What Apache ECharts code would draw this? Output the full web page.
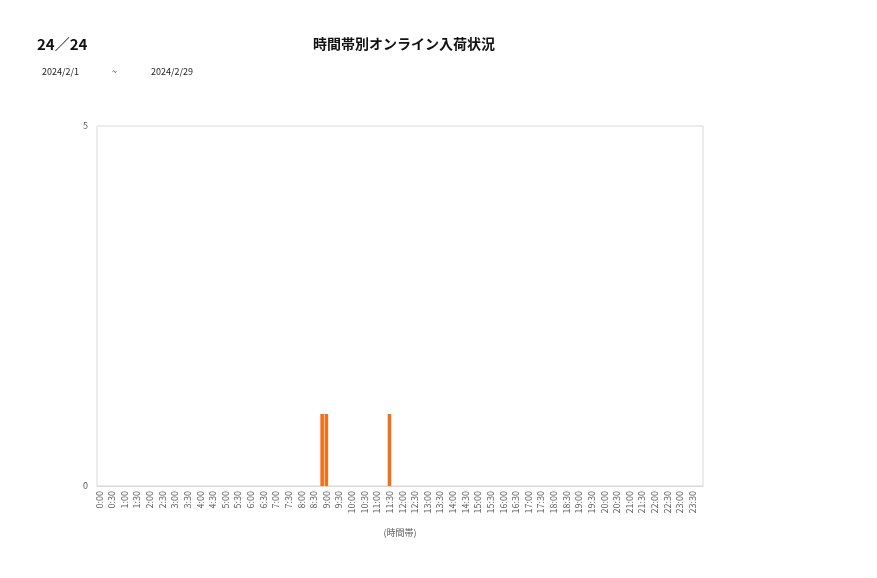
<!DOCTYPE html>
<html>
<head>
<meta charset="utf-8">
<script src="https://cdn.jsdelivr.net/npm/echarts@6/dist/echarts.min.js"></script>
<style>
html,body{margin:0;padding:0;background:#fff;}
#c{width:877px;height:578px;}
</style>
</head>
<body>
<div id="c"></div>
<script>
var categories = [];
for (var h = 0; h < 24; h++) {
  for (var m = 0; m < 60; m += 10) {
    categories.push(h + ':' + (m < 10 ? '0' + m : m));
  }
}
var barTimes = ['8:50', '9:00', '11:30'];
var barValues = [1, 1, 1];
var yTicks = [0, 5];

var seriesData = categories.map(function (c) {
  var i = barTimes.indexOf(c);
  return i >= 0 ? barValues[i] : 0;
});

var chart = echarts.init(document.getElementById('c'));
var font = '"Noto Sans CJK JP", "Noto Sans", sans-serif';
chart.setOption({
  animation: false,
  backgroundColor: '#fff',
  textStyle: { fontFamily: font },
  title: [
    { text: '24／24', left: 37, top: 37, padding: 0, textStyle: { fontSize: 15, fontWeight: 'bold', color: '#111', fontFamily: font } },
    { text: '時間帯別オンライン入荷状況', left: 404, top: 37, padding: 0, textAlign: 'center', textStyle: { fontSize: 14, fontWeight: 'bold', color: '#111', fontFamily: font } },
    { text: '2024/2/1', left: 42, top: 67, padding: 0, textStyle: { fontSize: 9, fontWeight: 'normal', color: '#222', fontFamily: font } },
    { text: '~', left: 112, top: 67, padding: 0, textStyle: { fontSize: 9, fontWeight: 'normal', color: '#222', fontFamily: font } },
    { text: '2024/2/29', left: 151, top: 67, padding: 0, textStyle: { fontSize: 9, fontWeight: 'normal', color: '#222', fontFamily: font } }
  ],
  grid: { left: 97, top: 126, width: 606, height: 360, show: true, borderColor: '#d9d9d9', borderWidth: 1, backgroundColor: 'transparent' },
  xAxis: {
    type: 'category',
    data: categories,
    name: '(時間帯)',
    nameLocation: 'middle',
    nameGap: 42,
    nameTextStyle: { fontSize: 9, color: '#595959' },
    axisLine: { show: true, lineStyle: { color: '#d9d9d9' } },
    axisTick: { show: false },
    axisLabel: { interval: 2, rotate: 90, fontSize: 9, color: '#595959', margin: 5 },
    splitLine: { show: false }
  },
  yAxis: {
    type: 'value',
    min: yTicks[0],
    max: yTicks[1],
    interval: 5,
    axisLine: { show: false },
    axisTick: { show: false },
    axisLabel: { fontSize: 9, color: '#595959', margin: 9 },
    splitLine: { show: false }
  },
  series: [{
    type: 'bar',
    data: seriesData,
    barCategoryGap: '15%',
    itemStyle: { color: '#F07020' }
  }]
});
</script>
</body>
</html>
